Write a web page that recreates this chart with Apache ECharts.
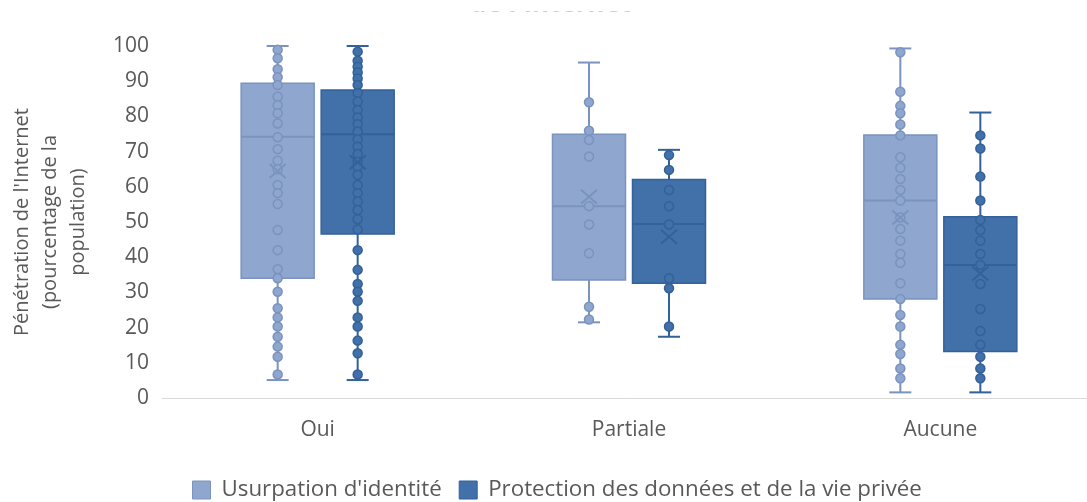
<!DOCTYPE html>
<html>
<head>
<meta charset="utf-8">
<script src="https://cdn.jsdelivr.net/npm/echarts@6/dist/echarts.min.js"></script>
<style>
  html, body { margin: 0; padding: 0; background: #ffffff; }
  #chart { width: 1087px; height: 502px; }
</style>
</head>
<body>
<div id="chart"></div>
<script>
// Catégories de législation
const categories = ['Oui', 'Partiale', 'Aucune'];
const seriesNames = ["Usurpation d'identité", 'Protection des données et de la vie privée'];
const yTicks = [0, 10, 20, 30, 40, 50, 60, 70, 80, 90, 100];

// Statistiques des boîtes : [min, Q1, médiane, Q3, max, moyenne] pour chaque catégorie
const usurpationStats = [
  [5.1, 34.0, 74.2, 89.4, 100, 64.5],
  [21.5, 33.5, 54.5, 74.9, 95.3, 57.2],
  [1.6, 28.1, 56.1, 74.7, 99.3, 51.3]
];
const protectionStats = [
  [5.1, 46.6, 74.9, 87.5, 100, 67.0],
  [17.4, 32.6, 49.4, 62.1, 70.5, 45.8],
  [1.6, 13.2, 37.8, 51.5, 81.1, 35.4]
];

// Valeurs individuelles des pays (pénétration de l'Internet, %)
const usurpationOui = [98.9, 96.5, 93.4, 91.1, 88.9, 85.6, 83.2, 80.9, 78.0, 74.1, 70.7, 67.4, 65.0, 60.5, 58.2, 55.1, 47.7, 42.0, 36.6, 34.0, 30.2, 25.5, 22.9, 20.3, 17.4, 14.6, 11.7, 6.7];
const usurpationPartiale = [84.0, 75.9, 73.3, 68.6, 54.5, 49.3, 41.1, 25.9, 22.3];
const usurpationAucune = [98.2, 87.0, 83.0, 80.9, 77.7, 74.6, 68.4, 65.4, 62.2, 59.1, 56.1, 51.3, 48.0, 44.7, 40.9, 38.4, 32.6, 28.1, 23.6, 20.3, 15.1, 12.5, 8.4, 5.6];
const protectionOui = [98.4, 95.8, 94.1, 92.5, 90.8, 88.9, 86.6, 84.2, 81.8, 79.7, 77.8, 75.7, 73.5, 71.4, 69.3, 67.1, 65.7, 63.4, 60.5, 58.2, 55.8, 53.4, 50.8, 47.9, 42.0, 36.4, 32.4, 30.2, 27.6, 22.9, 20.3, 16.3, 12.7, 6.7];
const protectionPartiale = [69.0, 64.8, 59.1, 54.5, 49.3, 34.0, 31.2, 20.3];
const protectionAucune = [74.6, 70.9, 62.9, 56.1, 50.6, 47.7, 44.7, 40.9, 37.8, 32.4, 25.3, 19.0, 15.1, 11.7, 8.4, 5.6];

const usurpationPoints = [usurpationOui, usurpationPartiale, usurpationAucune];
const protectionPoints = [protectionOui, protectionPartiale, protectionAucune];

// Styles
const LIGHT_FILL = '#8FA7CF', LIGHT_STROKE = '#7A93BF';
const DARK_FILL = '#4270A8', DARK_STROKE = '#33619A';
const BOX_WIDTH = 73, CAP_WIDTH = 22, BOX_OFFSET = 40, MEAN_HALF = 8;
const FONT = '"Open Sans", "Noto Sans", sans-serif';
const TEXT_COLOR = '#595959';

function toBoxData(stats) {
  return stats.map((s, i) => [i].concat(s));
}
function toPointData(points) {
  const out = [];
  points.forEach((vals, i) => vals.forEach(v => out.push([i, v])));
  return out;
}

function boxRenderer(offset, fill, stroke) {
  return function (params, api) {
    const cat = api.value(0);
    const y = v => api.coord([cat, v])[1];
    const cx = api.coord([cat, 0])[0] + offset;
    const yMin = y(api.value(1)), yQ1 = y(api.value(2)), yMed = y(api.value(3));
    const yQ3 = y(api.value(4)), yMax = y(api.value(5));
    const hw = BOX_WIDTH / 2, cw = CAP_WIDTH / 2;
    const line = (x1, y1, x2, y2) => ({
      type: 'line', shape: { x1, y1, x2, y2 }, style: { stroke, lineWidth: 2 }
    });
    return {
      type: 'group',
      children: [
        line(cx, yMax, cx, yMin),
        line(cx - cw, yMax, cx + cw, yMax),
        line(cx - cw, yMin, cx + cw, yMin),
        { type: 'rect', shape: { x: cx - hw, y: yQ3, width: BOX_WIDTH, height: yQ1 - yQ3 },
          style: { fill, stroke, lineWidth: 1.5 } },
        line(cx - hw, yMed, cx + hw, yMed)
      ]
    };
  };
}

function meanRenderer(offset, stroke) {
  return function (params, api) {
    const cat = api.value(0);
    const p = api.coord([cat, api.value(6)]);
    const cx = p[0] + offset, cy = p[1];
    const m = MEAN_HALF, h = MEAN_HALF - 1;
    return {
      type: 'group',
      children: [
        { type: 'line', shape: { x1: cx - m, y1: cy - h, x2: cx + m, y2: cy + h }, style: { stroke, lineWidth: 2 } },
        { type: 'line', shape: { x1: cx - m, y1: cy + h, x2: cx + m, y2: cy - h }, style: { stroke, lineWidth: 2 } }
      ]
    };
  };
}

function groupSeries(name, stats, points, offset, fill, stroke) {
  return [
    {
      name, type: 'custom', z: 2,
      renderItem: boxRenderer(offset, fill, stroke),
      itemStyle: { color: fill, borderColor: stroke },
      encode: { x: 0, y: [1, 2, 3, 4, 5] },
      data: toBoxData(stats)
    },
    {
      name, type: 'scatter', z: 3,
      symbol: 'circle', symbolSize: 9, symbolOffset: [offset, 0],
      itemStyle: { color: fill, borderColor: stroke, borderWidth: 1.5, opacity: 1 },
      data: toPointData(points)
    },
    {
      name, type: 'custom', z: 4,
      renderItem: meanRenderer(offset, stroke),
      itemStyle: { color: fill, borderColor: stroke },
      encode: { x: 0, y: 6 },
      data: toBoxData(stats)
    }
  ];
}

const chart = echarts.init(document.getElementById('chart'), null, { renderer: 'canvas' });

chart.setOption({
  animation: false,
  backgroundColor: '#ffffff',
  textStyle: { fontFamily: FONT },
  // Title line running off the top edge: only the foot of its glyphs shows below the white band
  graphic: [
    {
      type: 'text', left: 470, top: -8, z: 1,
      style: { text: "de l'Internet", font: 'bold 26px ' + FONT, fill: '#9a9a9a' }
    },
    {
      type: 'rect', left: 0, top: 0, z: 2,
      shape: { width: 1087, height: 11.5 },
      style: { fill: '#ffffff' }
    }
  ],
  grid: { left: 162, right: -9, top: 46, bottom: 104, containLabel: false, outerBoundsMode: 'none' },
  legend: {
    left: 187, top: 474,
    icon: 'rect', itemWidth: 18, itemHeight: 18, itemGap: 17,
    textStyle: { fontFamily: FONT, fontSize: 22.3, color: TEXT_COLOR, padding: [0, 0, 0, 6] },
    data: [
      { name: seriesNames[0], itemStyle: { color: LIGHT_FILL, borderColor: LIGHT_STROKE, borderWidth: 1 } },
      { name: seriesNames[1], itemStyle: { color: DARK_FILL, borderColor: DARK_STROKE, borderWidth: 1 } }
    ]
  },
  xAxis: {
    type: 'category', data: categories,
    axisLine: { lineStyle: { color: '#D9D9D9', width: 1 } },
    axisTick: { show: false },
    axisLabel: { fontFamily: FONT, fontSize: 21, color: TEXT_COLOR, margin: 22 },
    splitLine: { show: false }
  },
  yAxis: {
    type: 'value', min: yTicks[0], max: yTicks[yTicks.length - 1], interval: 10,
    axisLine: { show: false }, axisTick: { show: false }, splitLine: { show: false },
    axisLabel: { fontFamily: FONT, fontSize: 21, color: TEXT_COLOR, margin: 13 },
    name: "Pénétration de l'Internet\n(pourcentage de la\npopulation)",
    nameLocation: 'middle', nameGap: 70, nameRotate: 90,
    nameTextStyle: { fontFamily: FONT, fontSize: 20, color: TEXT_COLOR, lineHeight: 28, align: 'center' }
  },
  series: [
    ...groupSeries(seriesNames[0], usurpationStats, usurpationPoints, -BOX_OFFSET, LIGHT_FILL, LIGHT_STROKE),
    ...groupSeries(seriesNames[1], protectionStats, protectionPoints, BOX_OFFSET, DARK_FILL, DARK_STROKE)
  ]
});
</script>
</body>
</html>
